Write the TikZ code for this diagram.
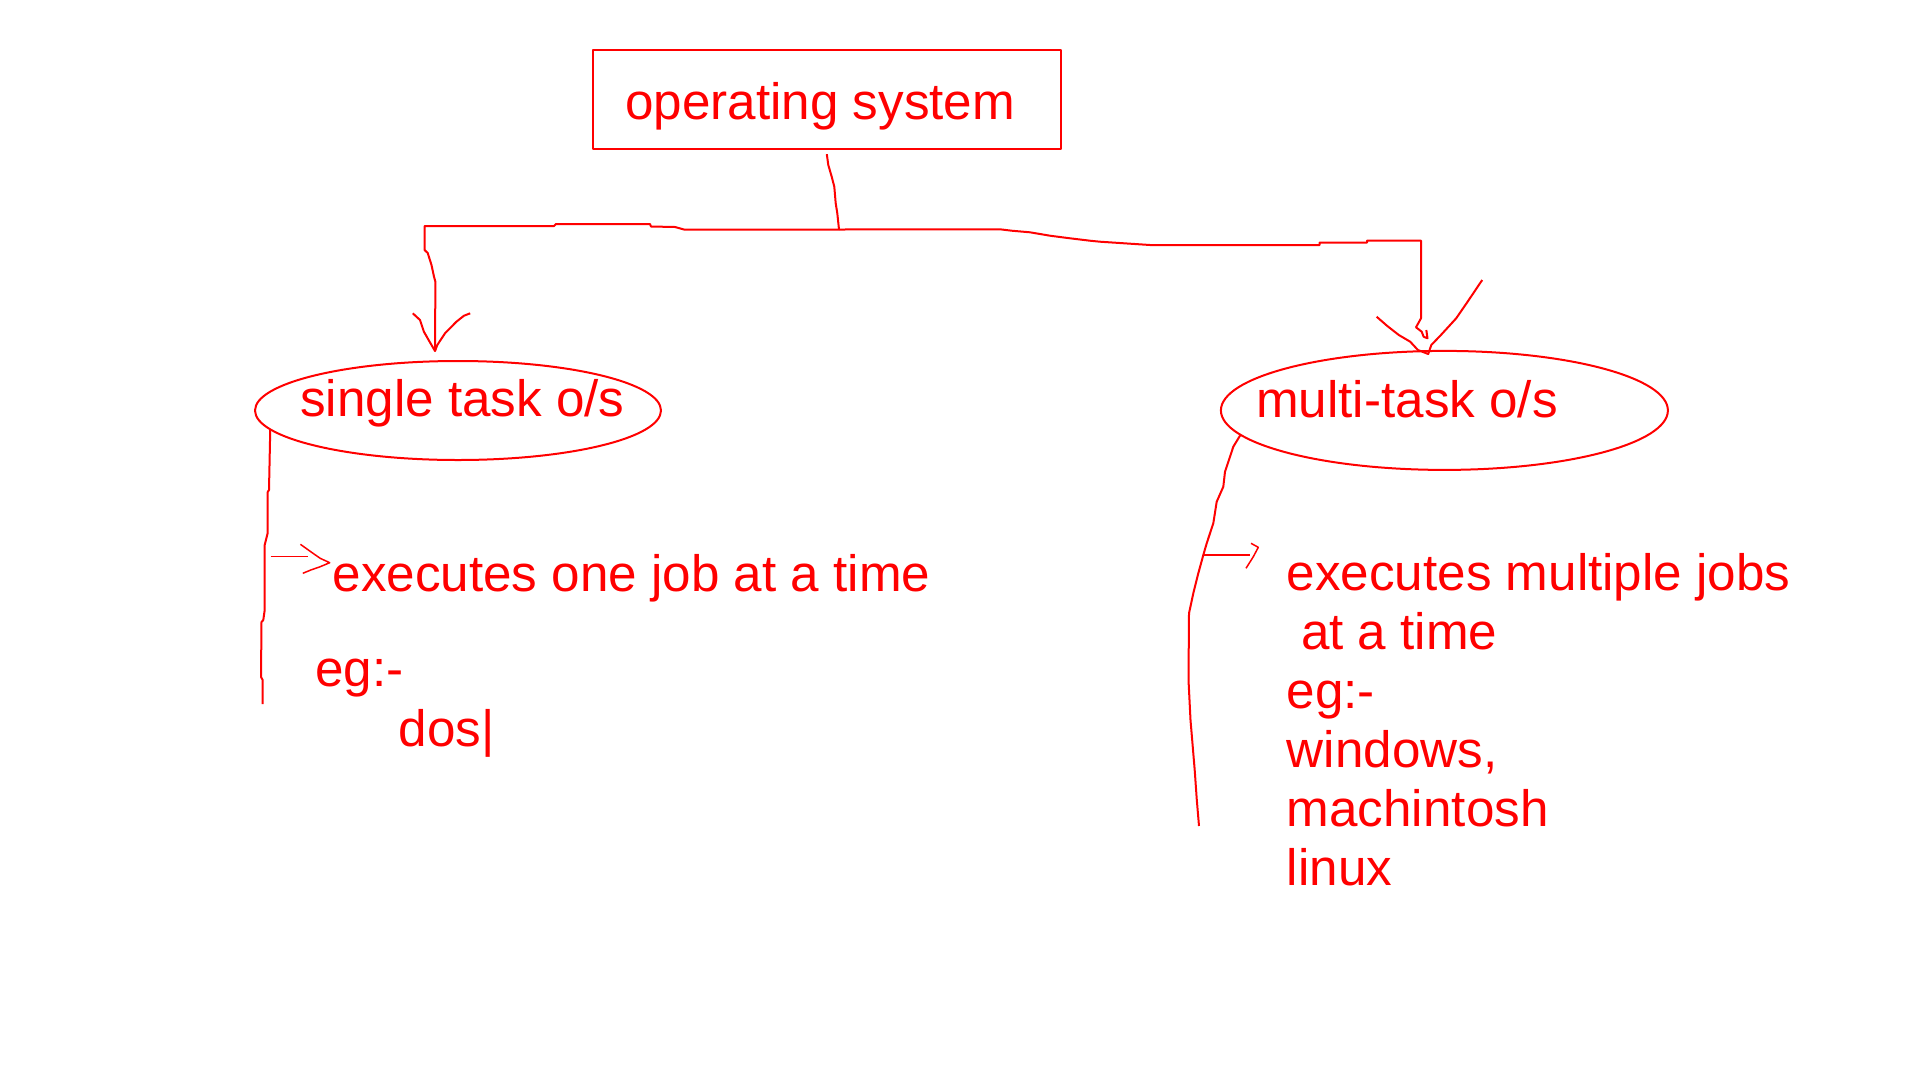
\documentclass[tikz,border=0pt]{standalone}
\usepackage{fontspec}
\setmainfont{Liberation Sans}
\usetikzlibrary{shapes.geometric}

\begin{document}
\begin{tikzpicture}[x=1pt,y=-1pt,
	pen/.style={draw=red,line width=2pt,line join=round},
	thinpen/.style={draw=red,line width=1.5pt,line join=round},
	txt/.style={text=red,inner sep=0pt,anchor=base west,font=\fontsize{51.2}{59}\selectfont}]
	\useasboundingbox[fill=white] (0,0) rectangle (1920,1080);
	\node[pen,rectangle,minimum width=468.3,minimum height=98.7] (os) at (826.8,99.3) {};
	\node[pen,ellipse,inner sep=0pt,minimum width=406,minimum height=99] (single) at (458,410.5) {};
	\node[pen,ellipse,inner sep=0pt,minimum width=447,minimum height=119] (multi) at (1444.4,410.4) {};
	\node[txt] (oslabel) at (625,119.3) {operating system};
	\node[txt] (singlelabel) at (300,416.7) {single task o/s};
	\node[txt] (multilabel) at (1256,417.3) {multi-task o/s};
	\node[txt] (onejob) at (332.4,591.7) {executes one job at a time};
	\node[txt] (egsingle) at (315,686.7) {eg:-};
	\node[txt] (dos) at (398.7,746.7) {dos|};
	\node[txt,align=left] (multijobs) at (1286.6,885.7) {executes multiple jobs\\\hspace*{14.2pt}at a time\\eg:-\\windows,\\machintosh\\linux};
	\coordinate (fork) at (839,229.5);
	\coordinate (stip) at (435,351);
	\coordinate (mtip) at (1428.2,354);
	\coordinate (sfrom) at (270.7,556.7);
	\coordinate (mfrom) at (1203.3,555);
	\draw[pen] ([yshift=-4.5]os.south) -- (828.3,165) -- (831.7,176.7) -- (834.3,186.7) -- (835.7,203.3) -- (837.3,213.3) -- (fork);
	\draw[pen] (fork) -- (684,229.5) -- (675,227) -- (651,226.5) -- (650,224) -- (556,224) -- (554,226) -- (424.6,226) -- (424.6,250) -- (427.7,253) -- (431.5,265) -- (434,276.7) -- (435.4,281.7) -- (stip);
	\draw[pen] (412.8,313.3) -- (420,320) -- (423.9,331.7) -- (429.6,341.7) -- (stip) -- (437.3,345) -- (445,333.3) -- (456.4,321.7) -- (464,315.7) -- (470.2,313.3);
	\draw[pen] (fork) -- (1000,229.3) -- (1011.7,230.7) -- (1030,232.3) -- (1050,235.7) -- (1070,238.3) -- (1090,240.7) -- (1100,241.7) -- (1150,245) -- (1319.5,245) -- (1319.5,242.7) -- (1367,242.7) -- (1367,240.7) -- (1421,240.7) -- (1421,318.3) -- (1416,327.3) -- (1421.7,331.7) -- (1423.6,336.7) -- (1427.5,338.3) -- (1426.3,330);
	\draw[pen] (1376.6,316.7) -- (1387.3,326) -- (1398.8,335) -- (1410.2,341.7) -- (1417.9,350) -- (mtip) -- (1431.3,345) -- (1440.9,335) -- (1456.2,318.3) -- (1467.6,301.7) -- (1482.2,280);
	\draw[pen] (single.186) -- (269,490) -- (267.7,492) -- (267.7,533) -- (264.7,545) -- (264.7,610) -- (263.3,620) -- (261.5,622) -- (261,677) -- (262.7,680) -- (262.7,704);
	\draw[pen] (multi.187) -- (1233.3,446.7) -- (1225,471.7) -- (1223.3,486.7) -- (1216.7,501.7) -- (1213.3,523.3) -- (1206.7,543.3) -- (mfrom) -- (1198.3,573.3) -- (1193.3,593.3) -- (1189,613.3) -- (1188.5,680) -- (1190.5,720) -- (1194.7,770) -- (1196.8,800) -- (1199,826);
	\draw[thinpen] (sfrom) -- (308.4,556.7);
	\draw[thinpen] (300.4,544.3) -- (306,548.3) -- (313,553.3) -- (320.2,558.3) -- (329.7,562.7) -- (320.2,566.7) -- (310.8,570) -- (302.8,573.3);
	\draw[thinpen] (mfrom) -- (1250,555);
	\draw[thinpen] (1251,543.3) -- (1258.3,547.3) -- (1253.3,556.7) -- (1246,568.3);
\end{tikzpicture}
\end{document}
